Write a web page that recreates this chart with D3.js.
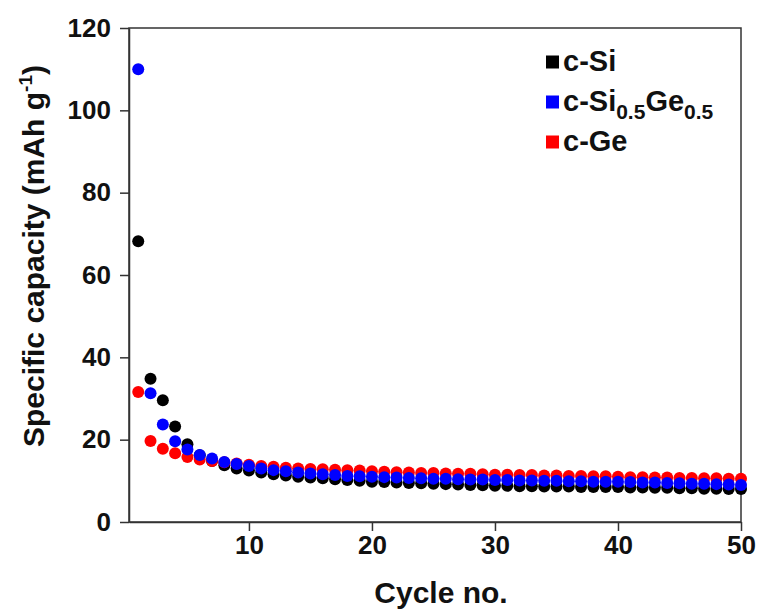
<!DOCTYPE html>
<html>
<head>
<meta charset="utf-8">
<script src="https://cdn.jsdelivr.net/npm/d3@7"></script>
<style>
    body { margin: 0; background: #fff; }
    svg { display: block; font-family: "Liberation Sans", Arial, sans-serif; font-weight: bold; }
</style>
</head>
<body>
<script>
// cycle numbers 1..50
const cycles = [
    1, 2, 3, 4, 5, 6, 7, 8, 9, 10, 11, 12, 13, 14, 15, 16, 17, 18, 19, 20,
    21, 22, 23, 24, 25, 26, 27, 28, 29, 30, 31, 32, 33, 34, 35, 36, 37, 38, 39, 40,
    41, 42, 43, 44, 45, 46, 47, 48, 49, 50
];
// specific capacity (mAh g-1)
const siValues = [
    68.2, 34.8, 29.6, 23.2, 18.9, 16.2, 14.8, 13.8, 13.0, 12.5,
    12.0, 11.6, 11.3, 11.0, 10.8, 10.6, 10.4, 10.2, 10.0, 9.8,
    9.7, 9.6, 9.5, 9.4, 9.3, 9.2, 9.1, 9.0, 8.9, 8.8,
    8.8, 8.7, 8.7, 8.6, 8.6, 8.6, 8.5, 8.5, 8.5, 8.5,
    8.4, 8.4, 8.3, 8.3, 8.2, 8.2, 8.1, 8.1, 8.0, 8.0
];
const siGeValues = [
    110.0, 31.3, 23.7, 19.6, 17.6, 16.3, 15.4, 14.6, 14.1, 13.6,
    13.0, 12.6, 12.3, 12.0, 11.8, 11.6, 11.4, 11.2, 11.1, 11.0,
    10.9, 10.8, 10.7, 10.6, 10.5, 10.5, 10.4, 10.3, 10.3, 10.2,
    10.2, 10.1, 10.1, 10.0, 10.0, 9.9, 9.9, 9.8, 9.8, 9.75,
    9.7, 9.6, 9.6, 9.5, 9.4, 9.3, 9.3, 9.2, 9.1, 9.0
];
const geValues = [
    31.6, 19.7, 17.8, 16.7, 15.8, 15.2, 14.8, 14.5, 14.2, 13.9,
    13.6, 13.4, 13.2, 13.0, 12.9, 12.8, 12.7, 12.6, 12.5, 12.3,
    12.2, 12.1, 12.0, 11.9, 11.9, 11.8, 11.7, 11.7, 11.6, 11.5,
    11.5, 11.4, 11.4, 11.3, 11.3, 11.2, 11.2, 11.1, 11.1, 11.0,
    10.9, 10.9, 10.8, 10.8, 10.7, 10.7, 10.6, 10.6, 10.5, 10.5
];
const xTicks = [10, 20, 30, 40, 50];
const yTicks = [0, 20, 40, 60, 80, 100, 120];

// series in drawing order (last one on top)
const series = [
    {name: 'c-Si', color: '#000000', values: siValues},
    {name: 'c-Ge', color: '#ff0000', values: geValues},
    {name: 'c-Si0.5Ge0.5', color: '#0000ff', values: siGeValues}
];

const params = {
    width: 763,
    height: 612,
    left: 129,
    right: 741,
    top: 28,
    bottom: 522,
    markerRadius: 6,
    tickSize: 9,
    frameColor: '#333333'
};

const svg = d3.select('body').append('svg')
    .attr('width', params.width)
    .attr('height', params.height);

const x = d3.scaleLinear().domain([0.25, 50]).range([params.left, params.right]);
const y = d3.scaleLinear().domain([0, 120]).range([params.bottom, params.top]);

// frame (top and right sides, no ticks)
svg.append('rect')
    .attr('x', params.left)
    .attr('y', params.top)
    .attr('width', params.right - params.left)
    .attr('height', params.bottom - params.top)
    .attr('fill', 'none')
    .attr('stroke', params.frameColor)
    .attr('stroke-width', 1.5);

// axes
const styleAxis = (g) => {
    g.select('.domain').attr('stroke', params.frameColor).attr('stroke-width', 1.5);
    g.selectAll('.tick line').attr('stroke', params.frameColor).attr('stroke-width', 1.5);
    g.selectAll('.tick text')
        .attr('fill', '#111')
        .style('font-size', '26px')
        .style('font-weight', 'bold');
};
svg.append('g')
    .attr('transform', `translate(0,${params.bottom})`)
    .call(d3.axisBottom(x).tickValues(xTicks).tickSize(params.tickSize).tickPadding(5).tickSizeOuter(0))
    .call(styleAxis);
svg.append('g')
    .attr('transform', `translate(${params.left},0)`)
    .call(d3.axisLeft(y).tickValues(yTicks).tickSize(params.tickSize).tickPadding(9).tickSizeOuter(0))
    .call(styleAxis);

// axis titles
svg.append('text')
    .attr('x', 441)
    .attr('y', 603)
    .attr('text-anchor', 'middle')
    .attr('fill', '#111')
    .style('font-size', '30px')
    .text('Cycle no.');
const yTitle = svg.append('text')
    .attr('transform', 'translate(44,256) rotate(-90)')
    .attr('text-anchor', 'middle')
    .attr('fill', '#111')
    .style('font-size', '30px');
yTitle.append('tspan').text('Specific capacity (mAh g');
yTitle.append('tspan').attr('dy', -12).style('font-size', '19px').text('-1');
yTitle.append('tspan').attr('dy', 12).text(')');

// markers
series.forEach((s) => {
    svg.append('g')
        .selectAll('circle')
        .data(s.values)
        .enter()
        .append('circle')
        .attr('cx', (d, i) => x(cycles[i]))
        .attr('cy', d => y(d))
        .attr('r', params.markerRadius)
        .attr('fill', s.color);
});

// legend
const legendRows = [
    {color: '#000000', y: 62, parts: [['c-Si', 0]]},
    {color: '#0000ff', y: 102, parts: [['c-Si', 0], ['0.5', 1], ['Ge', 0], ['0.5', 1]]},
    {color: '#ff0000', y: 142, parts: [['c-Ge', 0]]}
];
const legend = svg.append('g');
legendRows.forEach((row) => {
    legend.append('rect')
        .attr('x', 546)
        .attr('y', row.y - 6.5)
        .attr('width', 13)
        .attr('height', 13)
        .attr('fill', row.color);
    const label = legend.append('text')
        .attr('x', 563)
        .attr('y', row.y + 9)
        .attr('fill', '#111')
        .style('font-size', '29px');
    let sub = 0;
    row.parts.forEach(([txt, isSub]) => {
        const dy = (isSub - sub) * 8;
        sub = isSub;
        label.append('tspan')
            .attr('dy', dy)
            .style('font-size', isSub ? '21px' : '29px')
            .text(txt);
    });
});
</script>
</body>
</html>
